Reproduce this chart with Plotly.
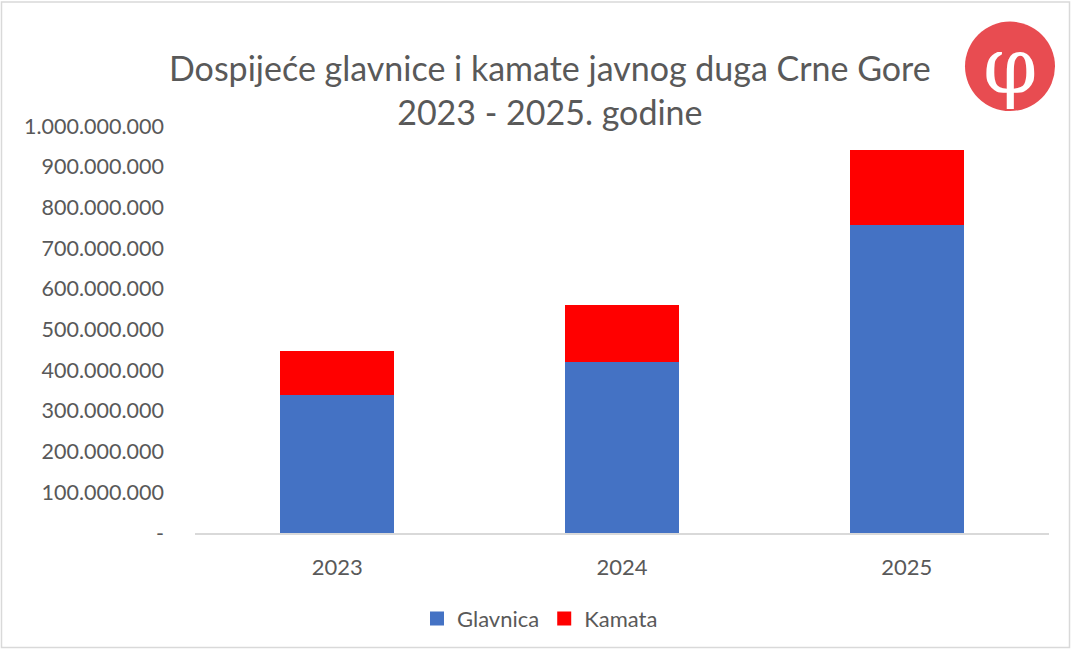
import plotly.graph_objects as go

years = ["2023", "2024", "2025"]
glavnica = [338_000_000, 421_000_000, 756_000_000]
kamata = [108_000_000, 140_000_000, 185_000_000]
tick_vals = [0, 100e6, 200e6, 300e6, 400e6, 500e6, 600e6, 700e6, 800e6, 900e6, 1000e6]
tick_text = ["-", "100.000.000", "200.000.000", "300.000.000", "400.000.000", "500.000.000",
             "600.000.000", "700.000.000", "800.000.000", "900.000.000", "1.000.000.000"]
series_names = ["Glavnica", "Kamata"]
series_colors = ["#4472c4", "#ff0000"]

FONT = "Lato"
GREY = "#595959"

L, R, T, B = 195, 1049, 126, 535
W, H = R - L, B - T


def px(x):
    return (x - L) / W


def py(y):
    return (B - y) / H


fig = go.Figure()
for name, vals, col in zip(series_names, [glavnica, kamata], series_colors):
    fig.add_trace(go.Bar(x=years, y=vals, name=name, legendgroup=name, showlegend=False,
                         marker=dict(color=col, line=dict(width=0))))
for name, col in zip(series_names, series_colors):
    fig.add_trace(go.Scatter(x=[None], y=[None], mode="markers", name=name, legendgroup=name,
                             marker=dict(symbol="square", size=14, color=col)))

fig.update_layout(
    barmode="stack",
    bargap=0.6,
    width=1072, height=652,
    margin=dict(l=L, r=1072 - R, t=T, b=652 - B),
    paper_bgcolor="white", plot_bgcolor="white",
    font=dict(family=FONT, color=GREY, size=21),
    legend=dict(orientation="h", x=px(540), xanchor="center", y=py(600), yanchor="top",
                font=dict(size=22, color=GREY), traceorder="normal", itemwidth=30),
    xaxis=dict(showgrid=False, showline=True, linecolor="#d9d9d9", linewidth=1.5,
               ticks="", tickfont=dict(size=22, color=GREY), ticklabelstandoff=14),
    yaxis=dict(range=[0, 1e9], tickvals=tick_vals, ticktext=tick_text, showgrid=False,
               zeroline=False, showline=False, ticks="", tickfont=dict(size=21.5, color=GREY),
               ticklabelstandoff=30),
    shapes=[
        dict(type="rect", xref="paper", yref="paper", x0=px(1.5), x1=px(1069.5), y0=py(650), y1=py(1.5),
             line=dict(color="#d9d9d9", width=1.5), fillcolor="rgba(0,0,0,0)", layer="below"),
        dict(type="circle", xref="paper", yref="paper",
             x0=px(965), x1=px(1055), y0=py(111), y1=py(21),
             fillcolor="#e84c51", line=dict(width=0)),
    ],
    annotations=[
        dict(text="Dospijeće glavnice i kamate javnog duga Crne Gore<br>2023 - 2025. godine",
             xref="paper", yref="paper", x=px(550), y=py(89), xanchor="center", yanchor="middle",
             showarrow=False, font=dict(size=34, color=GREY, family=FONT)),
        dict(text="φ", xref="paper", yref="paper", x=px(1010), y=py(66),
             xanchor="center", yanchor="middle", showarrow=False,
             font=dict(size=78, color="white", family="DejaVu Serif")),
    ],
)

fig.write_html("out.html")
